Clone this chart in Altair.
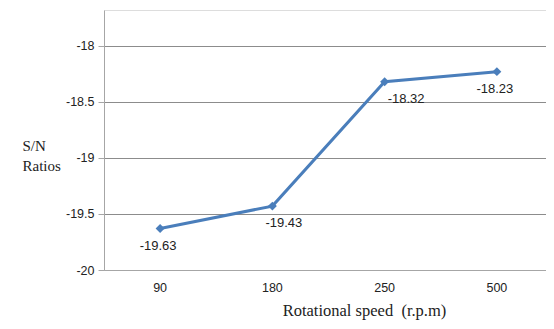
import altair as alt
import pandas as pd

speeds = ["90", "180", "250", "500"]
sn_ratios = [-19.63, -19.43, -18.32, -18.23]
labels = ["-19.63", "-19.43", "-18.32", "-18.23"]
y_ticks = [-20, -19.5, -19, -18.5, -18]

df = pd.DataFrame({"speed": speeds, "sn": sn_ratios, "label": labels})

x = alt.X("speed:N", sort=speeds,
          scale=alt.Scale(type="band", paddingInner=0, paddingOuter=0, range=[0, 449]),
          axis=alt.Axis(title="Rotational speed\u00a0 (r.p.m)", labelAngle=0,
                        ticks=False, domain=True, domainColor="#a6a6a6",
                        labelFont="Liberation Sans", labelFontSize=12.5,
                        labelColor="#222", labelPadding=11,
                        titleFont="Liberation Serif", titleFontSize=16.5,
                        titleFontWeight="normal", titleColor="#222",
                        titleX=260, titleY=40, titleBaseline="middle"))
y = alt.Y("sn:Q", scale=alt.Scale(domain=[-20, -17.68], nice=False, zero=False),
          axis=alt.Axis(title=["S/N", "Ratios"], values=y_ticks, grid=True,
                        gridColor="#8c8c8c", gridWidth=1, domainColor="#a6a6a6",
                        tickColor="#a6a6a6", tickSize=6, labelPadding=4,
                        labelFont="Liberation Sans", labelFontSize=12.5,
                        labelColor="#222", labelExpr="'' + datum.value",
                        titleFont="Liberation Serif", titleFontSize=15,
                        titleFontWeight="normal", titleColor="#222",
                        titleAngle=0, titleAlign="left", titleBaseline="middle",
                        titleX=-82, titleY=135, titleLineHeight=20))

base = alt.Chart(df)
line = base.mark_line(color="#4a7ebb", strokeWidth=3).encode(x=x, y=y)
pts = base.mark_point(shape="diamond", filled=True, size=80, color="#4a7ebb",
                      opacity=1).encode(x=x, y=y)

txt_style = dict(font="Liberation Sans", fontSize=13, color="#222", baseline="middle")
t_center = base.transform_filter(
    alt.FieldOneOfPredicate(field="speed", oneOf=["90", "500"])
).mark_text(dy=17, dx=-2, align="center", **txt_style).encode(x=x, y=y, text="label:N")
t_180 = base.transform_filter(
    alt.FieldEqualPredicate(field="speed", equal="180")
).mark_text(dy=17, dx=-7, align="left", **txt_style).encode(x=x, y=y, text="label:N")
t_250 = base.transform_filter(
    alt.FieldEqualPredicate(field="speed", equal="250")
).mark_text(dy=17, dx=3, align="left", **txt_style).encode(x=x, y=y, text="label:N")

chart = alt.layer(line, pts, t_center, t_180, t_250).properties(
    width=442, height=260,
    autosize=alt.AutoSizeParams(type="none"),
    padding={"left": 96, "top": 2, "right": 0, "bottom": 51},
).configure_view(stroke=None).configure(background="white")

chart.save("out.html", embed_options={"renderer": "svg", "actions": False})
